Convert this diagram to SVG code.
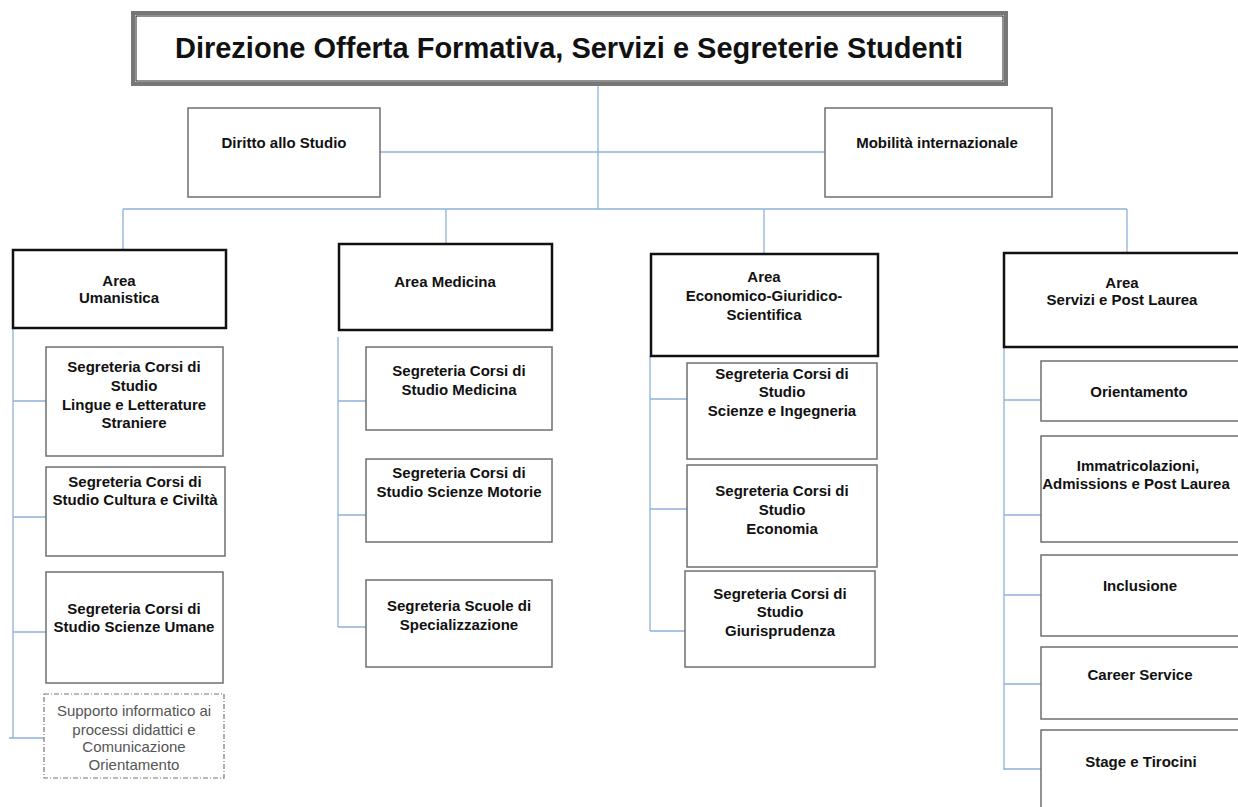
<svg xmlns="http://www.w3.org/2000/svg" width="1238" height="807" viewBox="0 0 1238 807">
<style>
text{font-family:"Liberation Sans",Arial,sans-serif;text-anchor:middle;fill:#111}
.t{font-size:29px;font-weight:bold}
.b{font-size:15px;font-weight:bold}
.s{font-size:15px;font-weight:bold}
.n{font-size:15px;fill:#555}
.box{fill:#fff;stroke:#6f6f6f;stroke-width:1.5}
.area{fill:#fff;stroke:#111;stroke-width:2.5}
.dash{fill:#fff;stroke:#777;stroke-width:1.2;stroke-dasharray:5 2 1 2}
.c{stroke:#8fb2dc;stroke-width:1.3;fill:none}
</style>
<rect width="1238" height="807" fill="#fff"/>
<g id="connectors">
<path class="c" d="M598 86V209M380 152H825M123 209H1127M123 209V249M446 209V243M764 209V253M1127 209V252"/>
<path class="c" d="M13 328V738M9 738H44M13 401H46M13 517H46M13 632H46"/>
<path class="c" d="M338 337V627M338 401H366M338 515H366M338 627H366"/>
<path class="c" d="M650 356V631M650 399H687M650 509H687M650 631H685"/>
<path class="c" d="M1004 347V770M1004 400H1041M1004 515H1041M1004 595H1041M1004 684H1041M1004 769H1041"/>
</g>
<g id="title">
<rect x="133" y="13" width="873" height="71" fill="#fff" stroke="#777" stroke-width="4"/>
<rect x="136" y="16" width="867" height="65" fill="none" stroke="#222" stroke-width="1"/>
<text class="t" x="569" y="58">Direzione Offerta Formativa, Servizi e Segreterie Studenti</text>
</g>
<g id="diritto"><rect class="box" x="188" y="108" width="192" height="89"/><text class="b" x="284" y="148">Diritto allo  Studio</text></g>
<g id="mobilita"><rect class="box" x="825" y="108" width="227" height="89"/><text class="b" x="937" y="148">Mobilità internazionale</text></g>
<g id="area-umanistica"><rect class="area" x="13" y="250" width="213" height="78"/><text class="s" x="119" y="286">Area</text><text class="s" x="119" y="303">Umanistica</text></g>
<g id="area-medicina"><rect class="area" x="339" y="244" width="213" height="86"/><text class="s" x="445" y="287">Area Medicina</text></g>
<g id="area-ecogiusci"><rect class="area" x="651" y="254" width="227" height="102"/><text class="s" x="764" y="282">Area</text><text class="s" x="764" y="301">Economico-Giuridico-</text><text class="s" x="764" y="320">Scientifica</text></g>
<g id="area-servizi"><rect class="area" x="1004" y="253" width="240" height="94"/><text class="s" x="1122" y="288">Area</text><text class="s" x="1122" y="305">Servizi e Post Laurea</text></g>
<g id="lingue"><rect class="box" x="46" y="347" width="177" height="109"/><text class="s" x="134" y="372">Segreteria Corsi di</text><text class="s" x="134" y="391">Studio</text><text class="s" x="134" y="410">Lingue e Letterature</text><text class="s" x="134" y="428">Straniere</text></g>
<g id="cultura"><rect class="box" x="46" y="467" width="179" height="89"/><text class="s" x="135" y="487">Segreteria Corsi di</text><text class="s" x="135" y="505">Studio Cultura e Civiltà</text></g>
<g id="scienze-umane"><rect class="box" x="46" y="572" width="177" height="111"/><text class="s" x="134" y="614">Segreteria Corsi di</text><text class="s" x="134" y="632">Studio  Scienze Umane</text></g>
<g id="supporto"><rect class="dash" x="44" y="694" width="180" height="84"/><text class="n" x="134" y="716">Supporto informatico ai</text><text class="n" x="134" y="735">processi didattici  e</text><text class="n" x="134" y="752">Comunicazione</text><text class="n" x="134" y="770">Orientamento</text></g>
<g id="medicina"><rect class="box" x="366" y="347" width="186" height="83"/><text class="s" x="459" y="376">Segreteria Corsi di</text><text class="s" x="459" y="395">Studio Medicina</text></g>
<g id="motorie"><rect class="box" x="366" y="459" width="186" height="83"/><text class="s" x="459" y="478">Segreteria Corsi di</text><text class="s" x="459" y="497">Studio  Scienze Motorie</text></g>
<g id="specializzazione"><rect class="box" x="366" y="580" width="186" height="87"/><text class="s" x="459" y="611">Segreteria Scuole di</text><text class="s" x="459" y="630">Specializzazione</text></g>
<g id="ingegneria"><rect class="box" x="687" y="363" width="190" height="96"/><text class="s" x="782" y="379">Segreteria Corsi di</text><text class="s" x="782" y="397">Studio</text><text class="s" x="782" y="416">Scienze e Ingegneria</text></g>
<g id="economia"><rect class="box" x="687" y="465" width="190" height="102"/><text class="s" x="782" y="496">Segreteria Corsi di</text><text class="s" x="782" y="515">Studio</text><text class="s" x="782" y="534">Economia</text></g>
<g id="giurisprudenza"><rect class="box" x="685" y="571" width="190" height="96"/><text class="s" x="780" y="599">Segreteria Corsi di</text><text class="s" x="780" y="617">Studio</text><text class="s" x="780" y="636">Giurisprudenza</text></g>
<g id="orientamento"><rect class="box" x="1041" y="361" width="205" height="60"/><text class="s" x="1139" y="397">Orientamento</text></g>
<g id="immatricolazioni"><rect class="box" x="1041" y="436" width="205" height="106"/><text class="s" x="1138" y="471">Immatricolazioni,</text><text class="s" x="1136" y="489">Admissions  e Post Laurea</text></g>
<g id="inclusione"><rect class="box" x="1041" y="555" width="205" height="81"/><text class="s" x="1140" y="591">Inclusione</text></g>
<g id="career"><rect class="box" x="1041" y="647" width="205" height="72"/><text class="s" x="1140" y="680">Career Service</text></g>
<g id="stage"><rect class="box" x="1041" y="730" width="205" height="90"/><text class="s" x="1141" y="767">Stage e Tirocini</text></g>
</svg>
